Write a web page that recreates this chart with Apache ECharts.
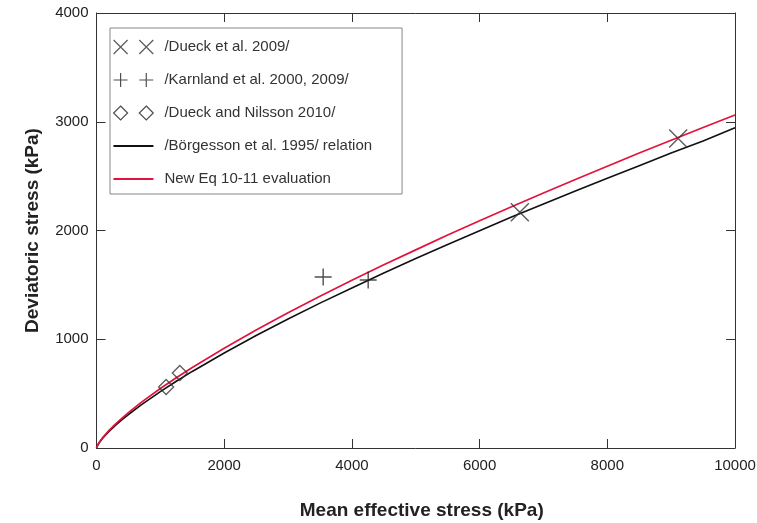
<!DOCTYPE html>
<html><head><meta charset="utf-8">
<script src="https://cdn.jsdelivr.net/npm/echarts@6/dist/echarts.min.js"></script>
<style>html,body{margin:0;padding:0;background:#fff}#c{width:757px;height:523px}</style>
</head><body><div id="c"></div>
<script>
// Data
var xTicks = [0, 2000, 4000, 6000, 8000, 10000];
var yTicks = [0, 1000, 2000, 3000, 4000];
var dueck2009 = [[6630, 2168], [9110, 2845]];
var karnland = [[3550, 1572], [4255, 1545]];
var dueckNilsson = [[1090, 561], [1305, 690]];
var curveP = [0, 10, 25, 50, 100, 200, 300, 400, 500, 700, 1000, 1250, 1500, 2000, 2500, 3000, 3500, 4000, 4500, 5000, 5500, 6000, 6500, 7000, 7500, 8000, 8500, 9000, 9500, 10000];
var borgessonQ = [0, 16, 32, 55, 92, 155, 210, 261, 308, 397, 519, 614, 704, 874, 1034, 1186, 1332, 1472, 1609, 1742, 1872, 1998, 2124, 2244, 2363, 2481, 2596, 2712, 2824, 2945];
var newEqQ = [0, 18, 35, 58, 98, 164, 222, 275, 326, 419, 547, 646, 741, 918, 1085, 1243, 1396, 1542, 1685, 1822, 1959, 2090, 2218, 2345, 2469, 2590, 2712, 2830, 2947, 3062];
var names = ['/Dueck et al. 2009/', '/Karnland et al. 2000, 2009/', '/Dueck and Nilsson 2010/', '/Börgesson et al. 1995/ relation', 'New Eq 10-11 evaluation'];

function pairs(xs, ys){ return xs.map(function(x,i){ return [x, ys[i]]; }); }

var FONT = 'Liberation Sans, Arial, sans-serif';
var TXT = '#222';
var AX = '#333';
var RED = '#e3123d';
var xSym = 'path://M0,0L10,10M10,0L0,10';
var pSym = 'path://M5,0L5,10M0,5L10,5';
var dSym = 'path://M5,0L10,5L5,10L0,5Z';
function plain(v){ return String(v); }

var chart = echarts.init(document.getElementById('c'));
function axCommon(){
  return {
    axisLine: {show: true, onZero: false, lineStyle: {color: AX, width: 1}},
    axisTick: {show: true, inside: true, length: 9, lineStyle: {color: AX, width: 1}},
    splitLine: {show: false}
  };
}
chart.setOption({
  animation: false,
  backgroundColor: '#fff',
  grid: {left: 96.5, right: 22, top: 13, bottom: 75, containLabel: false, outerBoundsMode: 'none'},
  xAxis: [
    Object.assign({type: 'value', min: xTicks[0], max: xTicks[xTicks.length-1], interval: 2000, position: 'bottom',
      name: 'Mean effective stress (kPa)', nameLocation: 'middle', nameGap: 53,
      nameTextStyle: {fontFamily: FONT, fontSize: 19, fontWeight: 'bold', color: TXT, padding: [0, 0, 0, 12]},
      axisLabel: {fontFamily: FONT, fontSize: 15, color: TXT, margin: 10, formatter: plain}}, axCommon()),
    Object.assign({type: 'value', min: xTicks[0], max: xTicks[xTicks.length-1], interval: 2000, position: 'top',
      axisLabel: {show: false}}, axCommon())
  ],
  yAxis: [
    Object.assign({type: 'value', min: yTicks[0], max: yTicks[yTicks.length-1], interval: 1000, position: 'left',
      name: 'Deviatoric stress (kPa)', nameLocation: 'middle', nameGap: 54,
      nameTextStyle: {fontFamily: FONT, fontSize: 19, fontWeight: 'bold', color: TXT},
      axisLabel: {fontFamily: FONT, fontSize: 15, color: TXT, margin: 8, formatter: plain}}, axCommon()),
    Object.assign({type: 'value', min: yTicks[0], max: yTicks[yTicks.length-1], interval: 1000, position: 'right',
      axisLabel: {show: false}}, axCommon())
  ],
  legend: {
    left: 110, top: 28, orient: 'vertical',
    padding: [11, 30, 7, 3],
    itemGap: 17, itemWidth: 40, itemHeight: 14,
    borderColor: '#888', borderWidth: 1, backgroundColor: '#fff',
    selectedMode: false,
    textStyle: {fontFamily: FONT, fontSize: 15, lineHeight: 16, color: '#333', padding: [0, 0, 0, 6]},
    data: [
      {name: names[0], icon: 'path://M0,0L12,12M12,0L0,12M22,0L34,12M34,0L22,12',
        itemStyle: {color: 'rgba(0,0,0,0)', borderColor: '#333', borderWidth: 1.2}},
      {name: names[1], icon: 'path://M6,0L6,12M0,6L12,6M28,0L28,12M22,6L34,6',
        itemStyle: {color: 'rgba(0,0,0,0)', borderColor: '#222', borderWidth: 1.2}},
      {name: names[2], icon: 'path://M6,0L12,6L6,12L0,6ZM28,0L34,6L28,12L22,6Z',
        itemStyle: {color: 'rgba(0,0,0,0)', borderColor: '#222', borderWidth: 1.2}},
      {name: names[3], icon: 'path://M0,0H40V2H0Z', itemStyle: {color: '#111', borderWidth: 0}},
      {name: names[4], icon: 'path://M0,0H40V2H0Z', itemStyle: {color: RED, borderWidth: 0}}
    ]
  },
  series: [
    {name: names[3], type: 'line', data: pairs(curveP, borgessonQ), showSymbol: false, smooth: false,
      lineStyle: {color: '#111', width: 1.6}, itemStyle: {color: '#111'}, z: 3},
    {name: names[4], type: 'line', data: pairs(curveP, newEqQ), showSymbol: false, smooth: false,
      lineStyle: {color: RED, width: 1.7}, itemStyle: {color: RED}, z: 4},
    {name: names[0], type: 'scatter', data: dueck2009, symbol: xSym, symbolSize: 18,
      itemStyle: {color: 'rgba(0,0,0,0)', borderColor: '#333', borderWidth: 1.4}, z: 5},
    {name: names[1], type: 'scatter', data: karnland, symbol: pSym, symbolSize: 17,
      itemStyle: {color: 'rgba(0,0,0,0)', borderColor: '#222', borderWidth: 1.4}, z: 5},
    {name: names[2], type: 'scatter', data: dueckNilsson, symbol: dSym, symbolSize: 15,
      itemStyle: {color: 'rgba(0,0,0,0)', borderColor: '#333', borderWidth: 1.3}, z: 5}
  ]
});
</script></body></html>
